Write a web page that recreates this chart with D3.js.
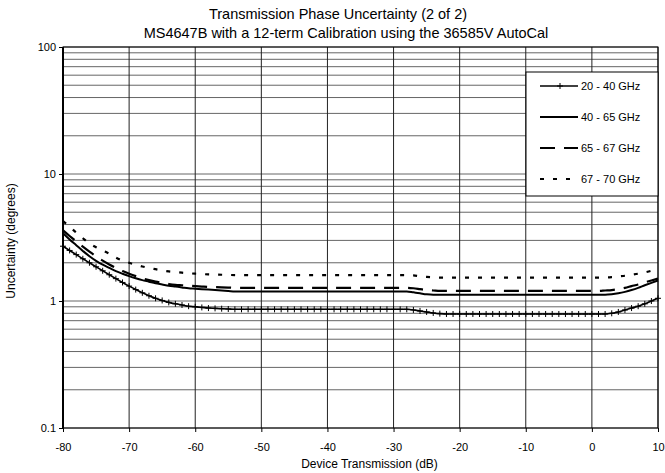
<!DOCTYPE html>
<html>
<head>
<meta charset="utf-8">
<script src="https://cdn.jsdelivr.net/npm/d3@7"></script>
<style>
  html, body { margin: 0; padding: 0; background: #fff; overflow: hidden; }
  svg { display: block; font-family: "Liberation Sans", Arial, sans-serif; }
</style>
</head>
<body>
<div id="chart"></div>
<script>
// Transmission (dB), one sample per dB
const xValues = d3.range(-80, 11, 1);

const s20_40 = [
  2.70, 2.50, 2.32, 2.15, 2.00, 1.86, 1.73, 1.61, 1.50, 1.40,
  1.31, 1.23, 1.16, 1.10, 1.05, 1.01, 0.975, 0.95, 0.93, 0.91,
  0.90, 0.89, 0.88, 0.875, 0.87, 0.865, 0.86, 0.86, 0.86, 0.86,
  0.86, 0.86, 0.86, 0.86, 0.86, 0.86, 0.86, 0.86, 0.86, 0.86,
  0.86, 0.86, 0.86, 0.86, 0.86, 0.86, 0.86, 0.86, 0.86, 0.86,
  0.86, 0.86, 0.86, 0.85, 0.835, 0.82, 0.805, 0.795, 0.79, 0.79,
  0.79, 0.79, 0.79, 0.79, 0.79, 0.79, 0.79, 0.79, 0.79, 0.79,
  0.79, 0.79, 0.79, 0.79, 0.79, 0.79, 0.79, 0.79, 0.79, 0.79,
  0.79, 0.79, 0.79, 0.80, 0.82, 0.85, 0.88, 0.91, 0.95, 1.00,
  1.05
];
const s40_65 = [
  3.42, 3.05, 2.75, 2.48, 2.25, 2.07, 1.93, 1.82, 1.72, 1.64,
  1.57, 1.51, 1.46, 1.42, 1.38, 1.35, 1.32, 1.30, 1.28, 1.26,
  1.25, 1.24, 1.23, 1.22, 1.21, 1.20, 1.19, 1.19, 1.19, 1.19,
  1.19, 1.19, 1.19, 1.19, 1.19, 1.19, 1.19, 1.19, 1.19, 1.19,
  1.19, 1.19, 1.19, 1.19, 1.19, 1.19, 1.19, 1.19, 1.19, 1.19,
  1.19, 1.19, 1.19, 1.17, 1.15, 1.13, 1.12, 1.12, 1.12, 1.12,
  1.12, 1.12, 1.12, 1.12, 1.12, 1.12, 1.12, 1.12, 1.12, 1.12,
  1.12, 1.12, 1.12, 1.12, 1.12, 1.12, 1.12, 1.12, 1.12, 1.12,
  1.12, 1.12, 1.12, 1.13, 1.15, 1.18, 1.22, 1.27, 1.33, 1.39,
  1.45
];
const s65_67 = [
  3.60, 3.25, 2.95, 2.68, 2.45, 2.25, 2.08, 1.94, 1.82, 1.72,
  1.64, 1.57, 1.51, 1.46, 1.42, 1.39, 1.36, 1.34, 1.33, 1.32,
  1.31, 1.30, 1.29, 1.285, 1.28, 1.275, 1.27, 1.27, 1.27, 1.27,
  1.27, 1.27, 1.27, 1.27, 1.27, 1.27, 1.27, 1.27, 1.27, 1.27,
  1.27, 1.27, 1.27, 1.27, 1.27, 1.27, 1.27, 1.27, 1.27, 1.27,
  1.27, 1.27, 1.27, 1.26, 1.24, 1.22, 1.21, 1.20, 1.20, 1.20,
  1.20, 1.20, 1.20, 1.20, 1.20, 1.20, 1.20, 1.20, 1.20, 1.20,
  1.20, 1.20, 1.20, 1.20, 1.20, 1.20, 1.20, 1.20, 1.20, 1.20,
  1.20, 1.20, 1.21, 1.22, 1.24, 1.27, 1.31, 1.35, 1.40, 1.45,
  1.50
];
const s67_70 = [
  4.26, 3.85, 3.45, 3.12, 2.84, 2.65, 2.50, 2.36, 2.20, 2.08,
  2.00, 1.93, 1.87, 1.82, 1.78, 1.74, 1.71, 1.69, 1.67, 1.655,
  1.64, 1.63, 1.62, 1.615, 1.61, 1.605, 1.60, 1.60, 1.60, 1.60,
  1.60, 1.60, 1.60, 1.60, 1.60, 1.60, 1.60, 1.60, 1.60, 1.60,
  1.60, 1.60, 1.60, 1.60, 1.60, 1.60, 1.60, 1.60, 1.60, 1.60,
  1.60, 1.60, 1.60, 1.59, 1.57, 1.55, 1.54, 1.53, 1.53, 1.53,
  1.53, 1.53, 1.53, 1.53, 1.53, 1.53, 1.53, 1.53, 1.53, 1.53,
  1.53, 1.53, 1.53, 1.53, 1.53, 1.53, 1.53, 1.53, 1.53, 1.53,
  1.53, 1.53, 1.53, 1.54, 1.56, 1.58, 1.61, 1.64, 1.68, 1.73,
  1.80
];

const seriesNames = ["20 - 40 GHz", "40 - 65 GHz", "65 - 67 GHz", "67 - 70 GHz"];
const seriesValues = [s20_40, s40_65, s65_67, s67_70];
const xTicks = [-80, -70, -60, -50, -40, -30, -20, -10, 0, 10];
const xTickLabels = ["-80", "-70", "-60", "-50", "-40", "-30", "-20", "-10", "0", "10"];
const yTicks = [0.1, 1, 10, 100];
const yTickLabels = ["0.1", "1", "10", "100"];

const width = 665, height = 473;
const margin = { top: 47, right: 7, bottom: 45, left: 63 };
const innerWidth = width - margin.left - margin.right;
const innerHeight = height - margin.top - margin.bottom;
const fontFamily = '"Liberation Sans", Arial, sans-serif';

const svg = d3.select("#chart").append("svg")
  .attr("width", width).attr("height", height);

// Titoli
svg.append("text").attr("x", 338).attr("y", 19).attr("text-anchor", "middle")
  .style("font-size", "14.5px").text("Transmission Phase Uncertainty (2 of 2)");
svg.append("text").attr("x", 346).attr("y", 38).attr("text-anchor", "middle")
  .style("font-size", "14.5px").text("MS4647B with a 12-term Calibration using the 36585V AutoCal");

const g = svg.append("g").attr("transform", `translate(${margin.left},${margin.top})`);

const x = d3.scaleLinear().domain([-80, 10]).range([0, innerWidth]);
const y = d3.scaleLog().domain([0.1, 100]).range([innerHeight, 0]);

// Griglia orizzontale (minor log ticks)
g.append("g").selectAll("line")
  .data(y.ticks())
  .enter().append("line")
  .attr("x1", 0).attr("x2", innerWidth)
  .attr("y1", d => y(d)).attr("y2", d => y(d))
  .attr("stroke", "#666").attr("stroke-width", 1);

// Griglia verticale
g.append("g").selectAll("line")
  .data(xTicks)
  .enter().append("line")
  .attr("x1", d => x(d)).attr("x2", d => x(d))
  .attr("y1", 0).attr("y2", innerHeight)
  .attr("stroke", "#222").attr("stroke-width", 1);

// Bordo
g.append("rect").attr("width", innerWidth).attr("height", innerHeight)
  .attr("fill", "none").attr("stroke", "#000").attr("stroke-width", 1);
g.append("line").attr("x1", 0).attr("x2", 0).attr("y1", 0).attr("y2", innerHeight)
  .attr("stroke", "#000").attr("stroke-width", 2);

// Assi
const yAxis = g.append("g")
  .call(d3.axisLeft(y).tickValues(yTicks).tickSize(4).tickFormat((d, i) => yTickLabels[i]))
  .attr("font-family", fontFamily).attr("font-size", 11);
yAxis.select(".domain").remove();
yAxis.selectAll("text").attr("fill", "#000");

const xAxis = g.append("g").attr("transform", `translate(0,${innerHeight})`)
  .call(d3.axisBottom(x).tickValues(xTicks).tickSize(4).tickPadding(11)
    .tickFormat((d, i) => xTickLabels[i]))
  .attr("font-family", fontFamily).attr("font-size", 11);
xAxis.select(".domain").remove();
xAxis.selectAll("text").attr("fill", "#000");

svg.append("text").attr("x", margin.left + innerWidth / 2 + 9).attr("y", height - 5)
  .attr("text-anchor", "middle").style("font-size", "12px").text("Device Transmission (dB)");
svg.append("text").attr("transform", `translate(15,${margin.top + 194}) rotate(-90)`)
  .attr("text-anchor", "middle").style("font-size", "12px").text("Uncertainty (degrees)");

// Linee
const styles = [
  { dash: null, width: 1.6 },
  { dash: null, width: 2 },
  { dash: "15,9", width: 2.2 },
  { dash: "4,9", width: 2.2 }
];
const line = d3.line().x(d => x(d[0])).y(d => y(d[1])).curve(d3.curveMonotoneX);

seriesValues.forEach((vals, i) => {
  const pts = vals.map((v, j) => [xValues[j], v]);
  g.append("path").datum(pts)
    .attr("d", line).attr("fill", "none").attr("stroke", "#000")
    .attr("stroke-width", styles[i].width)
    .attr("stroke-dasharray", styles[i].dash);
  if (i === 0) {
    g.append("g").selectAll("path")
      .data(pts).enter().append("path")
      .attr("transform", d => `translate(${x(d[0])},${y(d[1])})`)
      .attr("d", "M0,-3V3M-3,0H3")
      .attr("stroke", "#000").attr("stroke-width", 1);
  }
});

// Legenda
const legend = svg.append("g").attr("transform", "translate(526,72)");
legend.append("rect").attr("width", 132).attr("height", 124)
  .attr("fill", "#fff").attr("stroke", "#000").attr("stroke-width", 1);
seriesNames.forEach((name, i) => {
  const row = legend.append("g").attr("transform", `translate(0,${14 + i * 31})`);
  row.append("line").attr("x1", 14).attr("x2", 52).attr("y1", 0).attr("y2", 0)
    .attr("stroke", "#000").attr("stroke-width", styles[i].width)
    .attr("stroke-dasharray", styles[i].dash);
  if (i === 0) {
    row.append("path").attr("transform", "translate(34,0)")
      .attr("d", "M0,-3V3M-3,0H3").attr("stroke", "#000").attr("stroke-width", 1);
  }
  row.append("text").attr("x", 55).attr("y", 4).style("font-size", "11px").text(name);
});
</script>
</body>
</html>
